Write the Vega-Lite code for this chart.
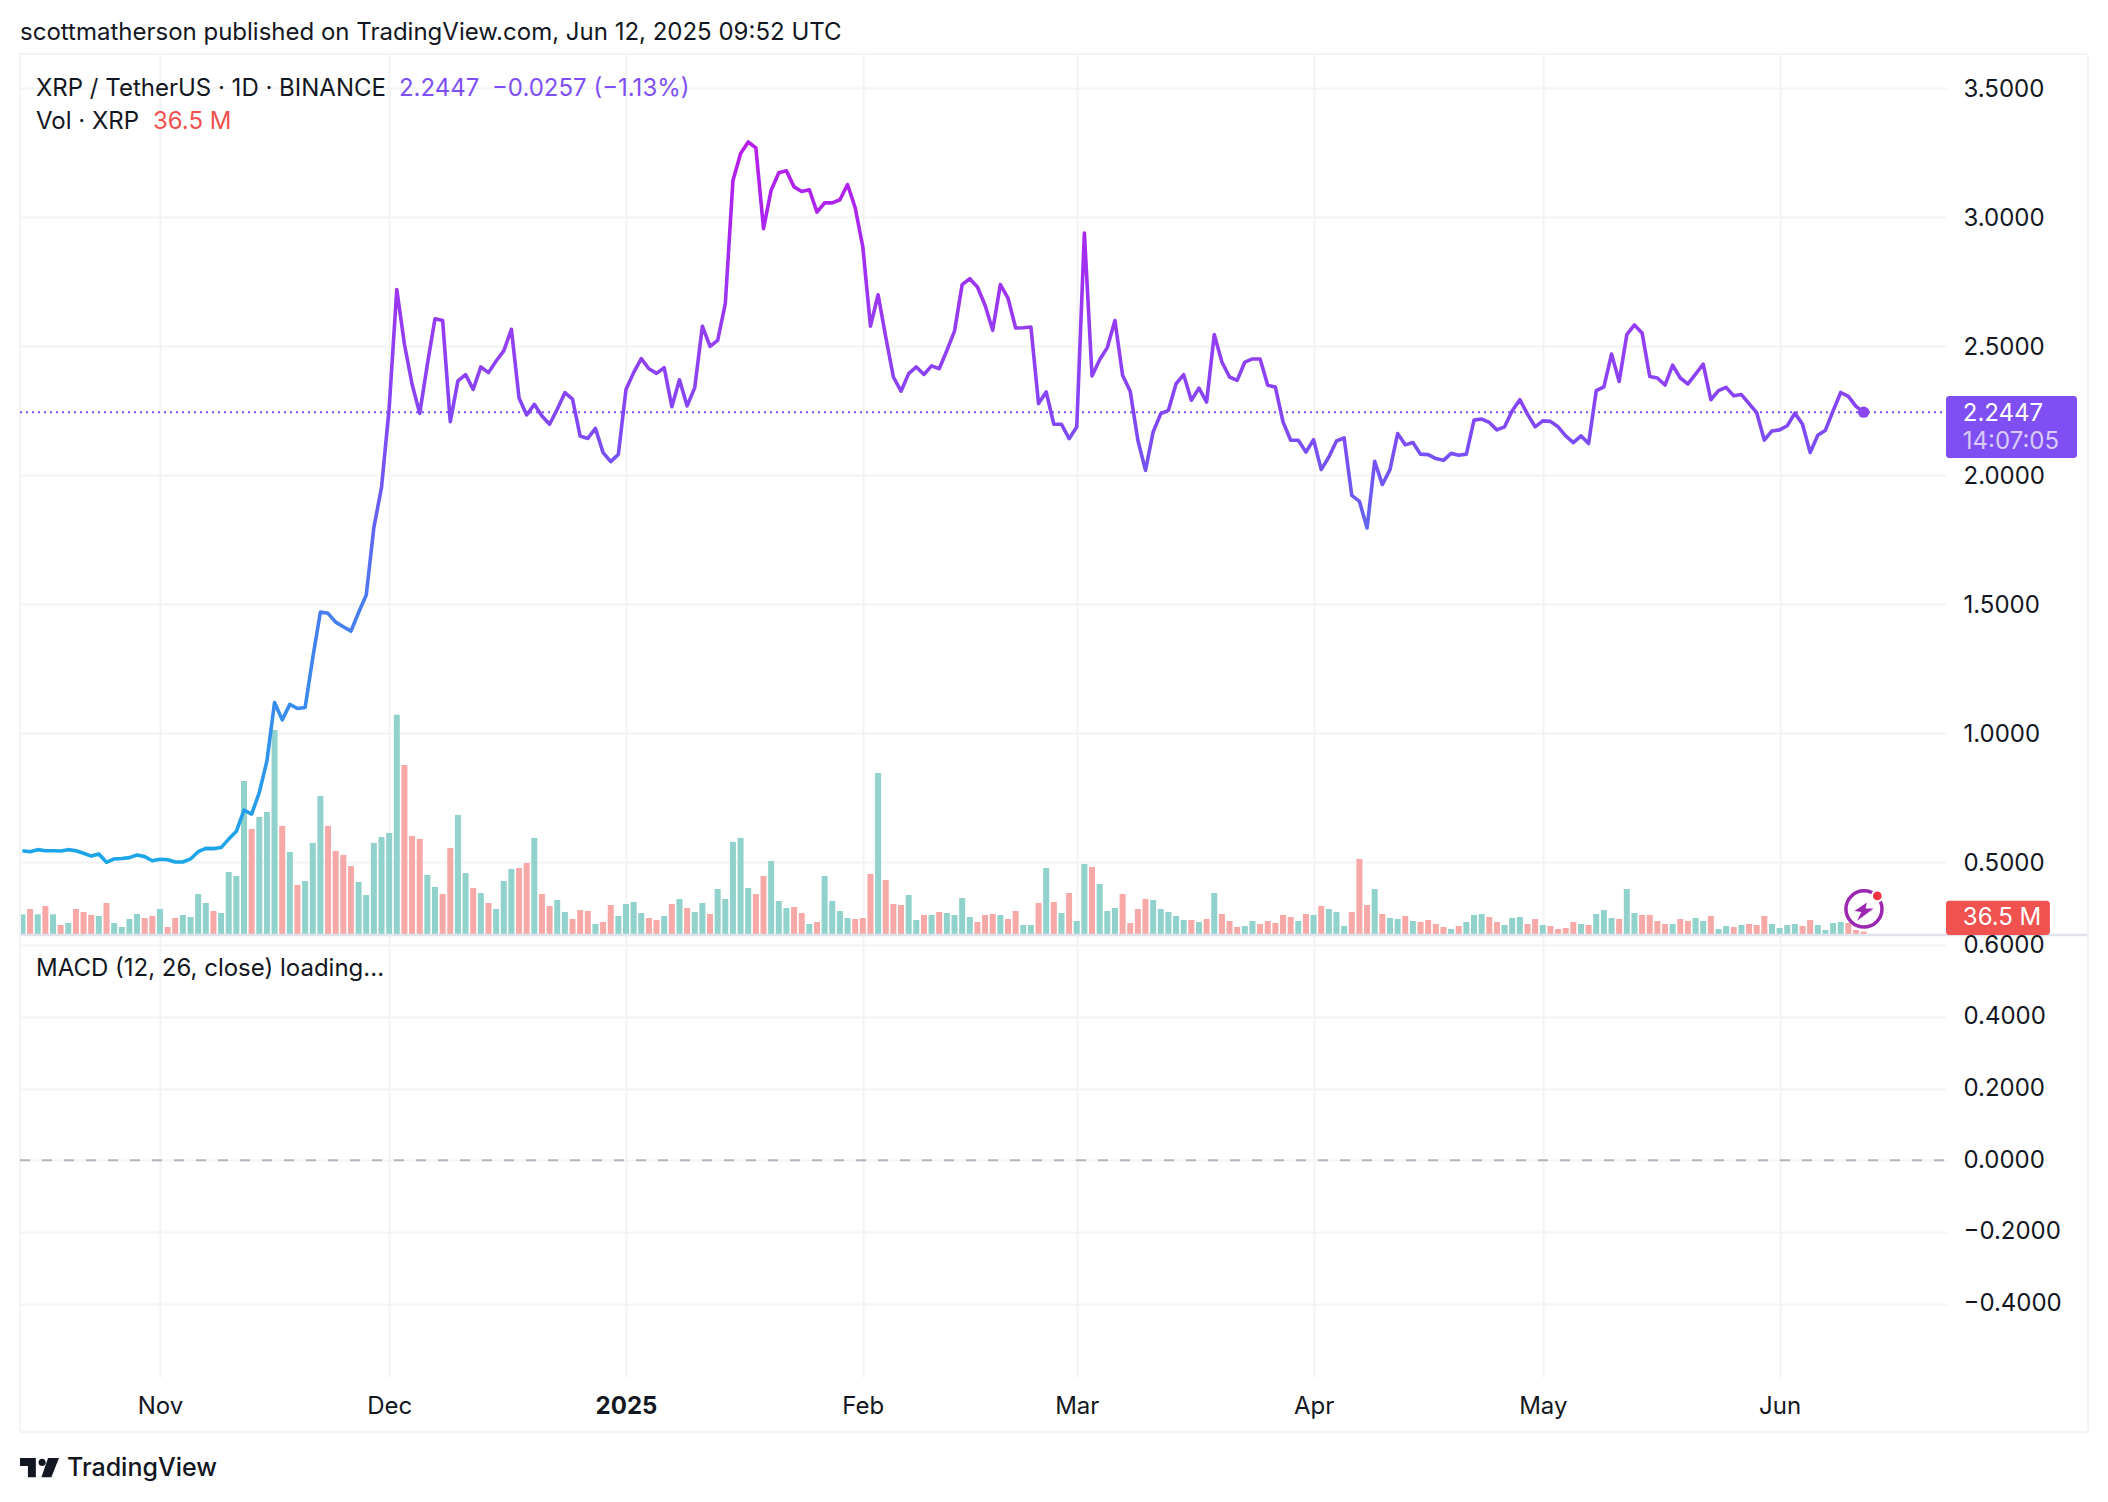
{"$schema":"https://vega.github.io/schema/vega-lite/v6.json","background":"#ffffff","padding":{"left":18,"top":20,"right":10,"bottom":10},"spacing":0,"bounds":"flush",
"config":{"view":{"stroke":null},"concat":{"spacing":0},"axis":{"title":null,"domain":false,"ticks":false,"gridColor":"#f3f4f6","gridWidth":2,"labelFont":"Inter","labelFontSize":24,"labelColor":"#131722"},"text":{"font":"Inter","fontSize":24,"align":"left","baseline":"middle"}},
"datasets":{"ohlc":[
{"date":"2024-10-14","price":0.545,"volume":287,"dir":"up"},{"date":"2024-10-15","price":0.541,"volume":365,"dir":"down"},{"date":"2024-10-16","price":0.549,"volume":287,"dir":"up"},{"date":"2024-10-17","price":0.545,"volume":409,"dir":"down"},{"date":"2024-10-18","price":0.545,"volume":287,"dir":"up"},{"date":"2024-10-19","price":0.544,"volume":131,"dir":"down"},{"date":"2024-10-20","price":0.549,"volume":161,"dir":"up"},{"date":"2024-10-21","price":0.545,"volume":365,"dir":"down"},{"date":"2024-10-22","price":0.535,"volume":321,"dir":"down"},{"date":"2024-10-23","price":0.524,"volume":278,"dir":"down"},{"date":"2024-10-24","price":0.532,"volume":263,"dir":"up"},{"date":"2024-10-25","price":0.5,"volume":453,"dir":"down"},{"date":"2024-10-26","price":0.513,"volume":161,"dir":"up"},{"date":"2024-10-27","price":0.515,"volume":102,"dir":"up"},{"date":"2024-10-28","price":0.518,"volume":219,"dir":"up"},{"date":"2024-10-29","price":0.528,"volume":292,"dir":"up"},{"date":"2024-10-30","price":0.522,"volume":234,"dir":"down"},{"date":"2024-10-31","price":0.506,"volume":263,"dir":"down"},
{"date":"2024-11-01","price":0.512,"volume":365,"dir":"up"},{"date":"2024-11-02","price":0.51,"volume":102,"dir":"down"},{"date":"2024-11-03","price":0.501,"volume":234,"dir":"down"},{"date":"2024-11-04","price":0.501,"volume":278,"dir":"up"},{"date":"2024-11-05","price":0.513,"volume":248,"dir":"up"},{"date":"2024-11-06","price":0.541,"volume":584,"dir":"up"},{"date":"2024-11-07","price":0.554,"volume":453,"dir":"up"},{"date":"2024-11-08","price":0.553,"volume":336,"dir":"down"},{"date":"2024-11-09","price":0.557,"volume":307,"dir":"up"},{"date":"2024-11-10","price":0.59,"volume":906,"dir":"up"},{"date":"2024-11-11","price":0.62,"volume":847,"dir":"up"},{"date":"2024-11-12","price":0.702,"volume":2235,"dir":"up"},{"date":"2024-11-13","price":0.687,"volume":1534,"dir":"down"},{"date":"2024-11-14","price":0.77,"volume":1709,"dir":"up"},{"date":"2024-11-15","price":0.893,"volume":1782,"dir":"up"},{"date":"2024-11-16","price":1.119,"volume":2980,"dir":"up"},{"date":"2024-11-17","price":1.052,"volume":1578,"dir":"down"},{"date":"2024-11-18","price":1.112,"volume":1198,"dir":"up"},{"date":"2024-11-19","price":1.096,"volume":716,"dir":"down"},{"date":"2024-11-20","price":1.1,"volume":774,"dir":"up"},{"date":"2024-11-21","price":1.293,"volume":1330,"dir":"up"},{"date":"2024-11-22","price":1.47,"volume":2016,"dir":"up"},{"date":"2024-11-23","price":1.465,"volume":1578,"dir":"down"},{"date":"2024-11-24","price":1.431,"volume":1213,"dir":"down"},{"date":"2024-11-25","price":1.413,"volume":1154,"dir":"down"},{"date":"2024-11-26","price":1.396,"volume":993,"dir":"down"},{"date":"2024-11-27","price":1.468,"volume":760,"dir":"up"},{"date":"2024-11-28","price":1.536,"volume":570,"dir":"up"},{"date":"2024-11-29","price":1.798,"volume":1330,"dir":"up"},{"date":"2024-11-30","price":1.953,"volume":1417,"dir":"up"},
{"date":"2024-12-01","price":2.26,"volume":1476,"dir":"up"},{"date":"2024-12-02","price":2.72,"volume":3200,"dir":"up"},{"date":"2024-12-03","price":2.508,"volume":2469,"dir":"down"},{"date":"2024-12-04","price":2.353,"volume":1432,"dir":"down"},{"date":"2024-12-05","price":2.24,"volume":1388,"dir":"down"},{"date":"2024-12-06","price":2.43,"volume":862,"dir":"up"},{"date":"2024-12-07","price":2.607,"volume":687,"dir":"up"},{"date":"2024-12-08","price":2.6,"volume":584,"dir":"down"},{"date":"2024-12-09","price":2.208,"volume":1256,"dir":"down"},{"date":"2024-12-10","price":2.366,"volume":1739,"dir":"up"},{"date":"2024-12-11","price":2.39,"volume":891,"dir":"up"},{"date":"2024-12-12","price":2.333,"volume":672,"dir":"down"},{"date":"2024-12-13","price":2.42,"volume":599,"dir":"up"},{"date":"2024-12-14","price":2.398,"volume":453,"dir":"down"},{"date":"2024-12-15","price":2.443,"volume":365,"dir":"up"},{"date":"2024-12-16","price":2.482,"volume":774,"dir":"up"},{"date":"2024-12-17","price":2.566,"volume":950,"dir":"up"},{"date":"2024-12-18","price":2.3,"volume":964,"dir":"down"},{"date":"2024-12-19","price":2.234,"volume":1037,"dir":"down"},{"date":"2024-12-20","price":2.275,"volume":1403,"dir":"up"},{"date":"2024-12-21","price":2.23,"volume":584,"dir":"down"},{"date":"2024-12-22","price":2.198,"volume":409,"dir":"down"},{"date":"2024-12-23","price":2.256,"volume":497,"dir":"up"},{"date":"2024-12-24","price":2.32,"volume":321,"dir":"up"},{"date":"2024-12-25","price":2.295,"volume":219,"dir":"down"},{"date":"2024-12-26","price":2.152,"volume":351,"dir":"down"},{"date":"2024-12-27","price":2.143,"volume":336,"dir":"down"},{"date":"2024-12-28","price":2.182,"volume":146,"dir":"up"},{"date":"2024-12-29","price":2.088,"volume":175,"dir":"down"},{"date":"2024-12-30","price":2.053,"volume":424,"dir":"down"},{"date":"2024-12-31","price":2.081,"volume":263,"dir":"up"},
{"date":"2025-01-01","price":2.333,"volume":438,"dir":"up"},{"date":"2025-01-02","price":2.398,"volume":468,"dir":"up"},{"date":"2025-01-03","price":2.452,"volume":307,"dir":"up"},{"date":"2025-01-04","price":2.413,"volume":234,"dir":"down"},{"date":"2025-01-05","price":2.395,"volume":205,"dir":"down"},{"date":"2025-01-06","price":2.417,"volume":263,"dir":"up"},{"date":"2025-01-07","price":2.266,"volume":438,"dir":"down"},{"date":"2025-01-08","price":2.37,"volume":511,"dir":"up"},{"date":"2025-01-09","price":2.269,"volume":380,"dir":"down"},{"date":"2025-01-10","price":2.34,"volume":321,"dir":"up"},{"date":"2025-01-11","price":2.578,"volume":453,"dir":"up"},{"date":"2025-01-12","price":2.5,"volume":292,"dir":"down"},{"date":"2025-01-13","price":2.523,"volume":657,"dir":"up"},{"date":"2025-01-14","price":2.665,"volume":511,"dir":"up"},{"date":"2025-01-15","price":3.143,"volume":1344,"dir":"up"},{"date":"2025-01-16","price":3.247,"volume":1403,"dir":"up"},{"date":"2025-01-17","price":3.292,"volume":672,"dir":"up"},{"date":"2025-01-18","price":3.269,"volume":584,"dir":"down"},{"date":"2025-01-19","price":2.956,"volume":847,"dir":"down"},{"date":"2025-01-20","price":3.105,"volume":1067,"dir":"up"},{"date":"2025-01-21","price":3.173,"volume":482,"dir":"up"},{"date":"2025-01-22","price":3.18,"volume":380,"dir":"up"},{"date":"2025-01-23","price":3.118,"volume":394,"dir":"down"},{"date":"2025-01-24","price":3.1,"volume":307,"dir":"down"},{"date":"2025-01-25","price":3.107,"volume":146,"dir":"up"},{"date":"2025-01-26","price":3.02,"volume":175,"dir":"down"},{"date":"2025-01-27","price":3.056,"volume":847,"dir":"up"},{"date":"2025-01-28","price":3.056,"volume":482,"dir":"up"},{"date":"2025-01-29","price":3.068,"volume":336,"dir":"up"},{"date":"2025-01-30","price":3.127,"volume":234,"dir":"up"},{"date":"2025-01-31","price":3.037,"volume":219,"dir":"down"},
{"date":"2025-02-01","price":2.885,"volume":234,"dir":"down"},{"date":"2025-02-02","price":2.578,"volume":877,"dir":"down"},{"date":"2025-02-03","price":2.7,"volume":2352,"dir":"up"},{"date":"2025-02-04","price":2.536,"volume":789,"dir":"down"},{"date":"2025-02-05","price":2.381,"volume":438,"dir":"down"},{"date":"2025-02-06","price":2.326,"volume":424,"dir":"down"},{"date":"2025-02-07","price":2.394,"volume":570,"dir":"up"},{"date":"2025-02-08","price":2.42,"volume":205,"dir":"up"},{"date":"2025-02-09","price":2.391,"volume":278,"dir":"down"},{"date":"2025-02-10","price":2.424,"volume":278,"dir":"up"},{"date":"2025-02-11","price":2.413,"volume":321,"dir":"down"},{"date":"2025-02-12","price":2.484,"volume":307,"dir":"up"},{"date":"2025-02-13","price":2.559,"volume":278,"dir":"up"},{"date":"2025-02-14","price":2.739,"volume":526,"dir":"up"},{"date":"2025-02-15","price":2.762,"volume":248,"dir":"up"},{"date":"2025-02-16","price":2.73,"volume":175,"dir":"down"},{"date":"2025-02-17","price":2.659,"volume":278,"dir":"down"},{"date":"2025-02-18","price":2.562,"volume":292,"dir":"down"},{"date":"2025-02-19","price":2.739,"volume":278,"dir":"up"},{"date":"2025-02-20","price":2.687,"volume":219,"dir":"down"},{"date":"2025-02-21","price":2.571,"volume":336,"dir":"down"},{"date":"2025-02-22","price":2.572,"volume":131,"dir":"up"},{"date":"2025-02-23","price":2.575,"volume":131,"dir":"up"},{"date":"2025-02-24","price":2.278,"volume":453,"dir":"down"},{"date":"2025-02-25","price":2.323,"volume":964,"dir":"up"},{"date":"2025-02-26","price":2.198,"volume":468,"dir":"down"},{"date":"2025-02-27","price":2.198,"volume":307,"dir":"up"},{"date":"2025-02-28","price":2.142,"volume":599,"dir":"down"},
{"date":"2025-03-01","price":2.187,"volume":190,"dir":"up"},{"date":"2025-03-02","price":2.939,"volume":1023,"dir":"up"},{"date":"2025-03-03","price":2.385,"volume":979,"dir":"down"},{"date":"2025-03-04","price":2.448,"volume":731,"dir":"up"},{"date":"2025-03-05","price":2.495,"volume":336,"dir":"up"},{"date":"2025-03-06","price":2.6,"volume":380,"dir":"up"},{"date":"2025-03-07","price":2.388,"volume":584,"dir":"down"},{"date":"2025-03-08","price":2.326,"volume":161,"dir":"down"},{"date":"2025-03-09","price":2.136,"volume":365,"dir":"down"},{"date":"2025-03-10","price":2.019,"volume":511,"dir":"down"},{"date":"2025-03-11","price":2.168,"volume":497,"dir":"up"},{"date":"2025-03-12","price":2.239,"volume":365,"dir":"up"},{"date":"2025-03-13","price":2.252,"volume":321,"dir":"up"},{"date":"2025-03-14","price":2.355,"volume":263,"dir":"up"},{"date":"2025-03-15","price":2.39,"volume":205,"dir":"up"},{"date":"2025-03-16","price":2.291,"volume":205,"dir":"down"},{"date":"2025-03-17","price":2.338,"volume":175,"dir":"up"},{"date":"2025-03-18","price":2.284,"volume":219,"dir":"down"},{"date":"2025-03-19","price":2.546,"volume":599,"dir":"up"},{"date":"2025-03-20","price":2.439,"volume":292,"dir":"down"},{"date":"2025-03-21","price":2.381,"volume":190,"dir":"down"},{"date":"2025-03-22","price":2.368,"volume":102,"dir":"down"},{"date":"2025-03-23","price":2.439,"volume":117,"dir":"up"},{"date":"2025-03-24","price":2.451,"volume":190,"dir":"up"},{"date":"2025-03-25","price":2.451,"volume":146,"dir":"down"},{"date":"2025-03-26","price":2.349,"volume":190,"dir":"down"},{"date":"2025-03-27","price":2.342,"volume":161,"dir":"down"},{"date":"2025-03-28","price":2.207,"volume":278,"dir":"down"},{"date":"2025-03-29","price":2.136,"volume":248,"dir":"down"},{"date":"2025-03-30","price":2.136,"volume":190,"dir":"up"},{"date":"2025-03-31","price":2.09,"volume":292,"dir":"down"},
{"date":"2025-04-01","price":2.138,"volume":278,"dir":"up"},{"date":"2025-04-02","price":2.022,"volume":409,"dir":"down"},{"date":"2025-04-03","price":2.071,"volume":365,"dir":"up"},{"date":"2025-04-04","price":2.133,"volume":321,"dir":"up"},{"date":"2025-04-05","price":2.145,"volume":117,"dir":"up"},{"date":"2025-04-06","price":1.922,"volume":321,"dir":"down"},{"date":"2025-04-07","price":1.899,"volume":1096,"dir":"down"},{"date":"2025-04-08","price":1.796,"volume":424,"dir":"down"},{"date":"2025-04-09","price":2.054,"volume":657,"dir":"up"},{"date":"2025-04-10","price":1.964,"volume":292,"dir":"down"},{"date":"2025-04-11","price":2.022,"volume":234,"dir":"up"},{"date":"2025-04-12","price":2.162,"volume":219,"dir":"up"},{"date":"2025-04-13","price":2.118,"volume":263,"dir":"down"},{"date":"2025-04-14","price":2.127,"volume":190,"dir":"up"},{"date":"2025-04-15","price":2.082,"volume":175,"dir":"down"},{"date":"2025-04-16","price":2.08,"volume":205,"dir":"down"},{"date":"2025-04-17","price":2.065,"volume":146,"dir":"down"},{"date":"2025-04-18","price":2.058,"volume":102,"dir":"down"},{"date":"2025-04-19","price":2.085,"volume":73,"dir":"up"},{"date":"2025-04-20","price":2.078,"volume":117,"dir":"down"},{"date":"2025-04-21","price":2.082,"volume":175,"dir":"up"},{"date":"2025-04-22","price":2.214,"volume":278,"dir":"up"},{"date":"2025-04-23","price":2.218,"volume":292,"dir":"up"},{"date":"2025-04-24","price":2.205,"volume":248,"dir":"down"},{"date":"2025-04-25","price":2.176,"volume":175,"dir":"down"},{"date":"2025-04-26","price":2.188,"volume":131,"dir":"up"},{"date":"2025-04-27","price":2.25,"volume":234,"dir":"up"},{"date":"2025-04-28","price":2.293,"volume":248,"dir":"up"},{"date":"2025-04-29","price":2.237,"volume":146,"dir":"down"},{"date":"2025-04-30","price":2.188,"volume":219,"dir":"down"},
{"date":"2025-05-01","price":2.211,"volume":131,"dir":"up"},{"date":"2025-05-02","price":2.209,"volume":117,"dir":"down"},{"date":"2025-05-03","price":2.188,"volume":73,"dir":"down"},{"date":"2025-05-04","price":2.153,"volume":88,"dir":"down"},{"date":"2025-05-05","price":2.127,"volume":175,"dir":"down"},{"date":"2025-05-06","price":2.153,"volume":146,"dir":"up"},{"date":"2025-05-07","price":2.123,"volume":131,"dir":"down"},{"date":"2025-05-08","price":2.328,"volume":292,"dir":"up"},{"date":"2025-05-09","price":2.343,"volume":351,"dir":"up"},{"date":"2025-05-10","price":2.47,"volume":234,"dir":"up"},{"date":"2025-05-11","price":2.364,"volume":219,"dir":"down"},{"date":"2025-05-12","price":2.545,"volume":657,"dir":"up"},{"date":"2025-05-13","price":2.583,"volume":307,"dir":"up"},{"date":"2025-05-14","price":2.552,"volume":278,"dir":"down"},{"date":"2025-05-15","price":2.383,"volume":278,"dir":"down"},{"date":"2025-05-16","price":2.377,"volume":190,"dir":"down"},{"date":"2025-05-17","price":2.35,"volume":146,"dir":"down"},{"date":"2025-05-18","price":2.427,"volume":146,"dir":"up"},{"date":"2025-05-19","price":2.377,"volume":219,"dir":"down"},{"date":"2025-05-20","price":2.354,"volume":190,"dir":"down"},{"date":"2025-05-21","price":2.392,"volume":234,"dir":"up"},{"date":"2025-05-22","price":2.431,"volume":190,"dir":"up"},{"date":"2025-05-23","price":2.293,"volume":263,"dir":"down"},{"date":"2025-05-24","price":2.328,"volume":73,"dir":"up"},{"date":"2025-05-25","price":2.341,"volume":117,"dir":"up"},{"date":"2025-05-26","price":2.308,"volume":102,"dir":"down"},{"date":"2025-05-27","price":2.313,"volume":131,"dir":"up"},{"date":"2025-05-28","price":2.278,"volume":146,"dir":"down"},{"date":"2025-05-29","price":2.243,"volume":131,"dir":"down"},{"date":"2025-05-30","price":2.136,"volume":263,"dir":"down"},{"date":"2025-05-31","price":2.172,"volume":146,"dir":"up"},
{"date":"2025-06-01","price":2.176,"volume":88,"dir":"up"},{"date":"2025-06-02","price":2.192,"volume":131,"dir":"up"},{"date":"2025-06-03","price":2.241,"volume":146,"dir":"up"},{"date":"2025-06-04","price":2.198,"volume":117,"dir":"down"},{"date":"2025-06-05","price":2.088,"volume":205,"dir":"down"},{"date":"2025-06-06","price":2.155,"volume":131,"dir":"up"},{"date":"2025-06-07","price":2.175,"volume":58,"dir":"up"},{"date":"2025-06-08","price":2.25,"volume":161,"dir":"up"},{"date":"2025-06-09","price":2.321,"volume":175,"dir":"up"},{"date":"2025-06-10","price":2.306,"volume":161,"dir":"down"},{"date":"2025-06-11","price":2.267,"volume":58,"dir":"down"},{"date":"2025-06-12","price":2.2447,"volume":36.5,"dir":"down"}
]},
"vconcat":[
{"width":1926,"height":881,
"encoding":{"x":{"field":"date","type":"temporal","scale":{"type":"utc","domain":[1728836352000,1750617792000],"padding":0},"axis":{"values":[1730419200000,1733011200000,1735689600000,1738368000000,1740787200000,1743465600000,1746057600000,1748736000000],"grid":true,"labels":false,"title":null}}},
"resolve":{"scale":{"y":"independent"},"axis":{"y":"independent"}},
"layer":[
{"data":{"name":"ohlc"},"mark":{"type":"bar","size":6},"encoding":{"y":{"field":"volume","type":"quantitative","stack":null,"scale":{"domain":[-14.6,12848],"nice":false,"zero":false},"axis":null},"color":{"field":"dir","type":"nominal","scale":{"domain":["up","down"],"range":["#92d2cc","#f7a9a7"]},"legend":null}}},
{"encoding":{"y":{"field":"price","type":"quantitative","scale":{"domain":[0.2182,3.633],"nice":false,"zero":false},"axis":{"orient":"right","values":[0.5,1,1.5,2,2.5,3,3.5],"format":".4f","grid":true,"labelPadding":17,"labelOffset":1,"title":null}}},
"layer":[
{"data":{"values":[{"date":"2024-10-13T16:19:12Z","date2":"2025-07-11T08:53:00Z","price":3.633}],"format":{"parse":{"date":"date","date2":"date"}}},"mark":{"type":"rule","color":"#f3f4f6","strokeWidth":2,"clip":false},"encoding":{"x2":{"field":"date2"}}},
{"data":{"values":[{"date":"2024-10-13T16:19:12Z","price":3.633,"price2":0.2182},{"date":"2025-07-11T08:53:00Z","price":3.633,"price2":0.2182}]},"mark":{"type":"rule","color":"#f3f4f6","strokeWidth":2,"clip":false},"encoding":{"y2":{"field":"price2"}}},
{"data":{"values":[{"date":"2024-10-13T16:19:12Z","date2":"2025-07-11T08:53:00Z","price":0.2182}],"format":{"parse":{"date":"date","date2":"date"}}},"mark":{"type":"rule","color":"#e0e3eb","strokeWidth":2.5,"clip":false},"encoding":{"x2":{"field":"date2"}}},
{"data":{"values":[{"date":"2024-10-13T16:19:12Z","date2":"2025-06-22T18:43:00Z","price":2.2447}],"format":{"parse":{"date":"date","date2":"date"}}},"mark":{"type":"rule","color":"#7e4ff5","strokeWidth":2,"strokeDash":[2,4]},"encoding":{"x2":{"field":"date2"}}},
{"data":{"name":"ohlc"},"mark":{"type":"line","strokeWidth":3.6,"strokeJoin":"round","color":{"gradient":"linear","x1":0,"y1":1,"x2":0,"y2":0,"stops":[{"offset":0,"color":"#1aa7e8"},{"offset":0.179,"color":"#3390ec"},{"offset":0.358,"color":"#4a7cef"},{"offset":0.538,"color":"#7355f3"},{"offset":0.627,"color":"#8545f5"},{"offset":0.717,"color":"#9240f2"},{"offset":0.896,"color":"#ab25ef"},{"offset":1,"color":"#b81eea"}]}}},
{"data":{"values":[{"date":"2025-06-12","price":2.2447}]},"mark":{"type":"point","filled":true,"opacity":1,"size":130,"color":"#8b46ee"}},
{"data":{"values":[{"date":"2024-10-13T16:19:12Z","price":3.7155,"label":"scottmatherson published on TradingView.com, Jun 12, 2025 09:52 UTC"},{"date":"2024-10-15T18:30:00Z","price":3.498,"label":"XRP / TetherUS · 1D · BINANCE"},{"date":"2024-10-15T18:30:00Z","price":3.37,"label":"Vol · XRP"}]},"mark":{"type":"text","color":"#131722"},"encoding":{"text":{"field":"label"}}},
{"data":{"values":[{"date":"2024-12-02T06:45:00Z","price":3.498,"label":"2.2447"},{"date":"2024-12-14T11:00:00Z","price":3.498,"label":"−0.0257 (−1.13%)"}]},"mark":{"type":"text","color":"#7e4ff5"},"encoding":{"text":{"field":"label"}}},
{"data":{"values":[{"date":"2024-10-31T02:00:00Z","price":3.37,"label":"36.5 M"}]},"mark":{"type":"text","color":"#f0524f"},"encoding":{"text":{"field":"label"}}},
{"data":{"values":[{"date":"2025-06-22T18:43:00Z","date2":"2025-07-09T22:20:00Z","price":2.3074,"price2":2.0671}],"format":{"parse":{"date":"date","date2":"date"}}},"mark":{"type":"rect","color":"#7f4ff3","cornerRadius":3,"clip":false},"encoding":{"x2":{"field":"date2"},"y2":{"field":"price2"}}},
{"data":{"values":[{"date":"2025-06-22T18:43:00Z","date2":"2025-07-06T09:00:00Z","price":0.3511,"price2":0.2182}],"format":{"parse":{"date":"date","date2":"date"}}},"mark":{"type":"rect","color":"#f0524f","cornerRadius":3,"clip":false},"encoding":{"x2":{"field":"date2"},"y2":{"field":"price2"}}},
{"data":{"values":[{"date":"2025-06-24T23:30:00Z","price":2.2388,"label":"2.2447"},{"date":"2025-06-24T23:30:00Z","price":0.284,"label":"36.5 M"}]},"mark":{"type":"text","color":"#ffffff"},"encoding":{"text":{"field":"label"}}},
{"data":{"values":[{"date":"2025-06-24T23:30:00Z","price":2.13,"label":"14:07:05"}]},"mark":{"type":"text","color":"#d9caf9"},"encoding":{"text":{"field":"label"}}},
{"data":{"values":[{"date":"2025-06-12T01:00:00Z","price":0.3194}]},"mark":{"type":"point","filled":false,"opacity":1,"size":1300,"stroke":"#9c27b0","strokeWidth":3.5}},
{"data":{"values":[{"date":"2025-06-12T01:00:00Z","price":0.3194}]},"mark":{"type":"point","filled":true,"opacity":1,"size":400,"color":"#9c27b0","shape":"M.3,-.63L-.96,.22L-.26,.3L-.7,1.2L.96,-.04L.15,-.04Z"}},
{"data":{"values":[{"date":"2025-06-13T19:00:00Z","price":0.3698}]},"mark":{"type":"point","filled":true,"opacity":1,"size":115,"fill":"#f23645","stroke":"#ffffff","strokeWidth":2}}
]}
]},
{"width":1926,"height":442,
"encoding":{"x":{"field":"date","type":"temporal","scale":{"type":"utc","domain":[1728836352000,1750617792000],"padding":0},"axis":{"values":[1730419200000,1733011200000,1735689600000,1738368000000,1740787200000,1743465600000,1746057600000,1748736000000],"grid":true,"title":null,"labelPadding":17,"labelOverlap":false,"labelFlush":false,"labelExpr":"utcmonth(datum.value)==0 ? '2025' : utcFormat(datum.value,'%b')","labelFontWeight":{"condition":{"test":"utcmonth(datum.value)==0","value":"bold"},"value":"normal"}}},
"y":{"field":"macd","type":"quantitative","scale":{"domain":[-0.6045,0.6285],"nice":false,"zero":false},"axis":{"orient":"right","values":[-0.4,-0.2,0,0.2,0.4,0.6],"grid":true,"labelPadding":17,"title":null,"labelExpr":"replace(format(datum.value,'.4f'),'-','−')"}}},
"layer":[
{"data":{"values":[{"date":"2024-10-13T16:19:12Z","macd":0.6285,"macd2":-0.758},{"date":"2025-07-11T08:53:00Z","macd":0.6285,"macd2":-0.758}]},"mark":{"type":"rule","color":"#f3f4f6","strokeWidth":2,"clip":false},"encoding":{"y2":{"field":"macd2"}}},
{"data":{"values":[{"date":"2024-10-13T16:19:12Z","date2":"2025-07-11T08:53:00Z","macd":-0.758}],"format":{"parse":{"date":"date","date2":"date"}}},"mark":{"type":"rule","color":"#f3f4f6","strokeWidth":2,"clip":false},"encoding":{"x2":{"field":"date2"}}},
{"data":{"values":[{"date":"2024-10-13T16:19:12Z","date2":"2025-06-22T18:43:00Z","macd":0}],"format":{"parse":{"date":"date","date2":"date"}}},"mark":{"type":"rule","color":"#b2b5be","strokeWidth":2,"strokeDash":[10,12]},"encoding":{"x2":{"field":"date2"}}},
{"data":{"values":[{"date":"2024-10-15T18:30:00Z","macd":0.5336,"label":"MACD (12, 26, close) loading..."}]},"mark":{"type":"text","color":"#131722"},"encoding":{"text":{"field":"label"}}},
{"data":{"values":[{"date":"2024-10-19T20:00:00Z","macd":-0.8585,"label":"TradingView"}]},"mark":{"type":"text","color":"#131722","fontSize":25,"fontWeight":500},"encoding":{"text":{"field":"label"}}},
{"data":{"values":[{"date":"2024-10-16T05:30:00Z","macd":-0.8585}]},"mark":{"type":"point","filled":true,"opacity":1,"size":1521,"color":"#131722","shape":"M-1,-.51L-.186,-.51L-.186,.47L-.593,.47L-.593,-.1L-1,-.1ZM-.05,-.29a.186,.186 0 1,0 .372,0a.186,.186 0 1,0 -.372,0ZM1,-.51L.44,-.51L.1,.47L.61,.47Z"}}
]}
]}
